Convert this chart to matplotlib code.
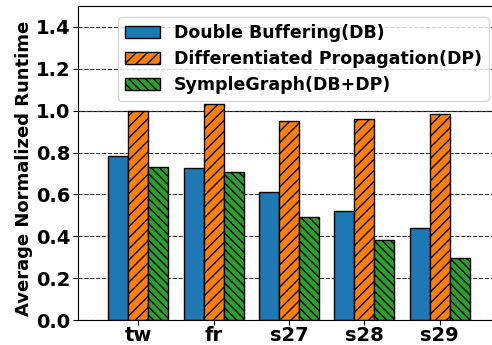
import matplotlib
matplotlib.use("Agg")
import matplotlib.pyplot as plt
import numpy as np

categories = ["tw", "fr", "s27", "s28", "s29"]
db = [0.784, 0.728, 0.613, 0.521, 0.438]
dp = [1.0, 1.032, 0.95, 0.96, 0.985]
sg = [0.73, 0.709, 0.492, 0.382, 0.295]
labels = ["Double Buffering(DB)", "Differentiated Propagation(DP)", "SympleGraph(DB+DP)"]
yticks = [0.0, 0.2, 0.4, 0.6, 0.8, 1.0, 1.2, 1.4]

plt.rcParams['font.family'] = ['DejaVu Sans']
plt.rcParams['font.weight'] = 'bold'
plt.rcParams['hatch.linewidth'] = 1.0

fig = plt.figure(figsize=(4.92, 3.45), dpi=100)
ax = fig.add_axes([78/492, (345-320)/345, (500-78)/492, (320-6)/345])

x = np.arange(len(categories))
w = 0.8/3
ax.set_axisbelow(True)
ax.yaxis.grid(True, linestyle='--', color='#333333', linewidth=0.8)
ax.axhline(1.0, color='black', linewidth=0.8, zorder=0.5)
ax.bar(x - w, db, w, color='#1f77b4', edgecolor='black', linewidth=1, label=labels[0])
ax.bar(x, dp, w, color='#ff7f0e', edgecolor='black', linewidth=1, hatch='///', label=labels[1])
ax.bar(x + w, sg, w, color='#2ca02c', edgecolor='black', linewidth=1, hatch='\\\\\\\\', label=labels[2])

ax.set_xlim(-0.8, len(categories) - 0.2)
ax.set_ylim(0, 1.5)
ax.set_yticks(yticks)
ax.set_yticklabels([f"{v:.1f}" for v in yticks], fontsize=14, fontweight='bold')
ax.set_xticks(x)
ax.set_xticklabels(categories, fontsize=14, fontweight='bold')
ax.tick_params(axis='x', pad=1)
ax.tick_params(axis='y', pad=2)
ax.set_ylabel("Average Normalized Runtime", fontsize=13, fontweight='bold')
ax.yaxis.set_label_coords(-0.107, 0.484)
ax.legend(loc='upper right', bbox_to_anchor=((492-78)/(500-78), 0.975), prop={'size': 12.5, 'weight': 'bold'},
          handlelength=2.0, borderaxespad=0.2, labelspacing=0.45)

fig.savefig("out.png", dpi=100)
